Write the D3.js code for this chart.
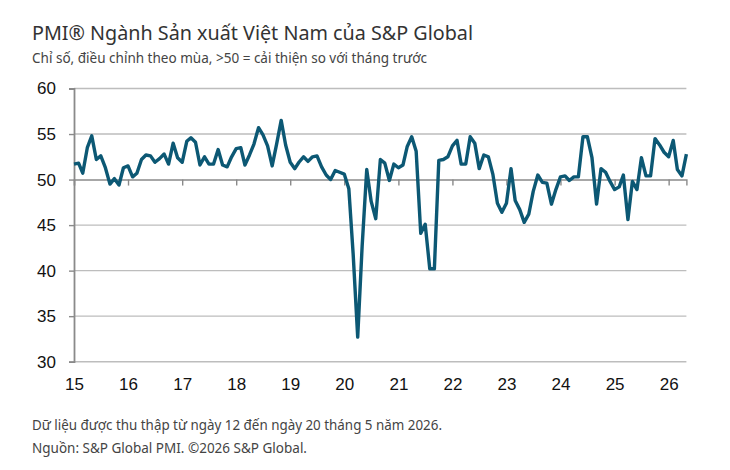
<!DOCTYPE html>
<html>
<head>
<meta charset="utf-8">
<script src="https://cdn.jsdelivr.net/npm/d3@7"></script>
<style>
  html, body { margin: 0; padding: 0; background: #fff; }
  svg { display: block; }
</style>
</head>
<body>
<div id="chart"></div>
<script>
// Vietnam manufacturing PMI, monthly, Jan 2015 → May 2026

const TITLE    = "PMI® Ngành Sản xuất Việt Nam của S&P Global";
const SUBTITLE = "Chỉ số, điều chỉnh theo mùa, >50 = cải thiện so với tháng trước";
const FOOTER   = [
  "Dữ liệu được thu thập từ ngày 12 đến ngày 20 tháng 5 năm 2026.",
  "Nguồn: S&P Global PMI. ©2026 S&P Global.",
];

const START = new Date(2015, 0, 1);

const PMI = [
  // 2015
  51.7, 51.8, 50.7, 53.5, 54.8, 52.2, 52.6, 51.3, 49.5, 50.1, 49.4, 51.3,
  // 2016
  51.5, 50.3, 50.7, 52.2, 52.7, 52.6, 51.9, 52.3, 52.8, 51.7, 54.0, 52.4,
  // 2017
  51.9, 54.2, 54.6, 54.1, 51.6, 52.5, 51.7, 51.7, 53.3, 51.6, 51.4, 52.5,
  // 2018
  53.4, 53.5, 51.6, 52.7, 53.9, 55.7, 54.9, 53.7, 51.5, 53.9, 56.5, 53.8,
  // 2019
  51.9, 51.2, 51.9, 52.5, 52.0, 52.5, 52.6, 51.4, 50.5, 50.0, 51.0, 50.8,
  // 2020
  50.6, 49.0, 41.9, 32.7, 42.7, 51.1, 47.6, 45.7, 52.2, 51.8, 49.9, 51.7,
  // 2021
  51.3, 51.6, 53.6, 54.7, 53.1, 44.1, 45.1, 40.2, 40.2, 52.1, 52.2, 52.5,
  // 2022
  53.7, 54.3, 51.7, 51.7, 54.7, 54.0, 51.2, 52.7, 52.5, 50.6, 47.4, 46.4,
  // 2023
  47.4, 51.2, 47.7, 46.7, 45.3, 46.2, 48.7, 50.5, 49.7, 49.6, 47.3, 48.9,
  // 2024
  50.3, 50.4, 49.9, 50.3, 50.3, 54.7, 54.7, 52.4, 47.3, 51.2, 50.8, 49.8,
  // 2025
  48.9, 49.2, 50.5, 45.6, 49.8, 48.9, 52.4, 50.4, 50.4, 54.5, 53.8, 53.0,
  // 2026
  52.5, 54.3, 51.1, 50.4, 52.8,
];

const Y_TICKS = [30, 35, 40, 45, 50, 55, 60];
const YEARS   = d3.range(2015, 2027);

const W = 730, H = 470;
const margin = { top: 88.5, right: 43.6, bottom: 108.3, left: 74 };
const innerW = W - margin.left - margin.right;
const innerH = H - margin.top - margin.bottom;

const data = PMI.map((v, i) => ({ date: d3.timeMonth.offset(START, i), value: v }));

const svg = d3.select("#chart").append("svg")
  .attr("width", W)
  .attr("height", H);

// ── Titles (widths fitted to the original's narrower face) ─────────────────

svg.append("text")
  .attr("x", 32).attr("y", 39.5)
  .attr("textLength", 441).attr("lengthAdjust", "spacingAndGlyphs")
  .style("font-family", "'Noto Sans', sans-serif")
  .style("font-size", "20.5px")
  .style("fill", "#333")
  .text(TITLE);

svg.append("text")
  .attr("x", 32).attr("y", 63)
  .attr("textLength", 395).attr("lengthAdjust", "spacingAndGlyphs")
  .style("font-family", "'Noto Sans', sans-serif")
  .style("font-size", "14.5px")
  .style("fill", "#444")
  .text(SUBTITLE);

const g = svg.append("g")
  .attr("transform", `translate(${margin.left},${margin.top})`);

// ── Scales ─────────────────────────────────────────────────────────────────

const x = d3.scaleTime()
  .domain(d3.extent(data, d => d.date))
  .range([0, innerW]);

const y = d3.scaleLinear()
  .domain([30, 60])
  .range([innerH, 0]);

// ── Grid + axes ────────────────────────────────────────────────────────────

g.append("g")
  .selectAll("line")
  .data(Y_TICKS.filter(t => t !== 50))
  .join("line")
    .attr("x1", 0).attr("x2", innerW)
    .attr("y1", d => y(d)).attr("y2", d => y(d))
    .attr("stroke", "#bdbdbd")
    .attr("stroke-width", 1.4);

g.append("g")
  .call(d3.axisLeft(y).tickValues(Y_TICKS).tickSize(5).tickPadding(13))
  .call(ax => ax.select(".domain").attr("stroke", "#8a8a8a").attr("stroke-width", 1.8))
  .call(ax => ax.selectAll(".tick line").attr("stroke", "#8a8a8a").attr("stroke-width", 1.4))
  .selectAll("text")
    .style("font-family", "'Liberation Sans', Arial, sans-serif")
    .style("font-size", "17px")
    .style("fill", "#111");

// x axis sits on the 50 line, labels go to the bottom
const yearDates = YEARS.map(yr => new Date(yr, 0, 1));

g.append("g")
  .attr("transform", `translate(0,${y(50)})`)
  .call(d3.axisBottom(x).tickValues(yearDates).tickSize(6).tickFormat(""))
  .call(ax => ax.select(".domain").attr("stroke", "#8a8a8a").attr("stroke-width", 1.4))
  .call(ax => ax.selectAll(".tick line").attr("stroke", "#8a8a8a").attr("stroke-width", 1.4));

g.append("g")
  .attr("transform", `translate(0,${innerH})`)
  .call(d3.axisBottom(x).tickValues(yearDates).tickSize(0).tickPadding(16)
    .tickFormat(d3.timeFormat("%y")))
  .call(ax => ax.select(".domain").remove())
  .selectAll("text")
    .style("font-family", "'Liberation Sans', Arial, sans-serif")
    .style("font-size", "17px")
    .style("fill", "#111");

// ── Line ───────────────────────────────────────────────────────────────────

g.append("path")
  .datum(data)
  .attr("fill", "none")
  .attr("stroke", "#0c5874")
  .attr("stroke-width", 3.4)
  .attr("stroke-linejoin", "round")
  .attr("d", d3.line().x(d => x(d.date)).y(d => y(d.value)));

// ── Footer ─────────────────────────────────────────────────────────────────

const FOOTER_W = [410, 275];

svg.append("g")
  .selectAll("text")
  .data(FOOTER)
  .join("text")
    .attr("x", 32)
    .attr("y", (d, i) => 430 + i * 23)
    .attr("textLength", (d, i) => FOOTER_W[i])
    .attr("lengthAdjust", "spacingAndGlyphs")
    .style("font-family", "'Noto Sans', sans-serif")
    .style("font-size", "14.5px")
    .style("fill", "#444")
    .text(d => d);
</script>
</body>
</html>
